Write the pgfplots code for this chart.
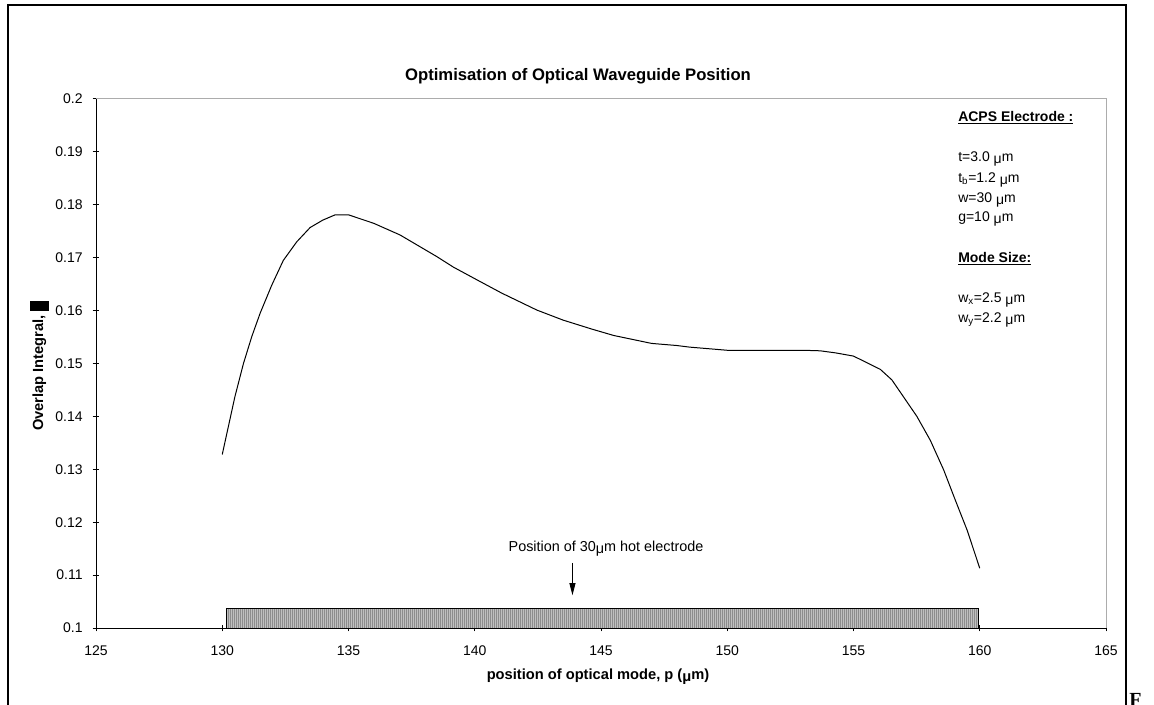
\documentclass[border=0pt]{standalone}
\usepackage{fontspec}
\setmainfont{Liberation Sans}
\newfontfamily\serifbf{Liberation Serif}
\usepackage{pgfplots}
\pgfplotsset{compat=1.18}
\usetikzlibrary{arrows.meta,patterns.meta}
\newcommand\um{\raisebox{-0.3ex}{μ}m}

\begin{document}
\begin{tikzpicture}
\useasboundingbox (0,0) rectangle (865.5pt,528pt);
\clip (0,0) rectangle (865.5pt,528pt);
\fill[white] (0,0) rectangle (865.5pt,528pt);
\draw[line width=1.5pt] (6pt,-5pt) -- (6pt,524.25pt) -- (844.5pt,524.25pt) -- (844.5pt,-5pt);
\begin{axis}[
  at={(72pt,57pt)}, anchor=south west, scale only axis,
  width=757.5pt, height=396.75pt,
  xmin=125, xmax=165, ymin=0.1, ymax=0.2,
  axis x line*=bottom, axis y line*=left,
  axis line style={black, line width=0.75pt},
  xtick={125,130,135,140,145,150,155,160,165},
  xticklabels={125,130,135,140,145,150,155,160,165},
  ytick={0.1,0.11,0.12,0.13,0.14,0.15,0.16,0.17,0.18,0.19,0.2},
  yticklabels={0.1,0.11,0.12,0.13,0.14,0.15,0.16,0.17,0.18,0.19,0.2},
  tick align=center, major tick length=5pt,
  tick style={black, line width=0.75pt},
  ticklabel style={font=\fontsize{10.5}{12}\selectfont},
  xticklabel style={yshift=-7pt},
  yticklabel style={xshift=-4pt},
  clip=false,
]
\draw[gray!65, line width=0.75pt] (rel axis cs:0,1) -- (rel axis cs:1,1) -- (rel axis cs:1,0);
\addplot[draw=black, line width=0.75pt, fill=gray!50,
  postaction={pattern={Lines[angle=90,distance=1.5pt,line width=0.45pt]}, pattern color=gray!90}]
  coordinates {(130.15,0.1) (130.15,0.1037) (159.97,0.1037) (159.97,0.1)} -- cycle;
\addplot[black, line width=0.75pt] coordinates {
(130.0,0.1328) (130.5,0.1437) (130.84,0.1500) (131.17,0.1551) (131.5,0.1595)
(131.96,0.1648) (132.42,0.1695) (132.95,0.1730) (133.48,0.1757) (133.98,0.1771)
(134.47,0.1781) (135.0,0.1781) (136.0,0.1765) (137.04,0.1743) (138.5,0.1702)
(139.16,0.1682) (140.21,0.1655) (141.07,0.1633) (142.46,0.1601) (143.5,0.1582)
(144.64,0.1565) (145.5,0.1553) (146.5,0.1543) (147.0,0.1538) (148.0,0.1534)
(148.5,0.1531) (149.5,0.1527) (150.0,0.1525) (151.0,0.1525) (152.0,0.1525)
(153.0,0.1525) (153.68,0.1524) (154.3,0.1520) (155.0,0.1514) (156.06,0.1489)
(156.52,0.1469) (156.98,0.1437) (157.51,0.1400) (158.04,0.1355) (158.57,0.1299)
(159.03,0.1242) (159.5,0.1185) (160.0,0.1113)
};
\draw[-{Triangle[length=9pt,width=4.5pt]}, line width=0.6pt] (axis cs:143.87,0.1123) -- (axis cs:143.87,0.1062);
\node[font=\fontsize{10.8}{12}\selectfont] at (axis cs:145.2,0.1150) {Position of 30\um{} hot electrode};
\end{axis}
% title and axis labels
\node[font=\bfseries\fontsize{12.5}{14}\selectfont] at (433.5pt,471pt) {Optimisation of Optical Waveguide Position};
\node[font=\bfseries\fontsize{11}{12}\selectfont] at (448.5pt,20.25pt) {position of optical mode, p (\um)};
\node[font=\bfseries\fontsize{11}{12}\selectfont, rotate=90, anchor=base, inner sep=0pt] at (32.25pt,253.5pt) {Overlap Integral, \rule[-4.5pt]{7.5pt}{14pt}};
% annotations
\begin{scope}[every node/.style={anchor=west, inner sep=0pt, font=\fontsize{10.5}{12}\selectfont}]
\node[font=\bfseries\fontsize{10.5}{12}\selectfont] at (718.5pt,439.5pt) {\underline{ACPS Electrode :}};
\node at (718.5pt,408.75pt) {t=3.0 \um};
\node at (718.5pt,393pt) {t\textsubscript{b}=1.2 \um};
\node at (718.5pt,378pt) {w=30 \um};
\node at (718.5pt,363.75pt) {g=10 \um};
\node[font=\bfseries\fontsize{10.5}{12}\selectfont] at (718.5pt,333.75pt) {\underline{Mode Size:}};
\node at (718.5pt,303pt) {w\textsubscript{x}=2.5 \um};
\node at (718.5pt,288pt) {w\textsubscript{y}=2.2 \um};
\end{scope}
\node[anchor=base west, inner sep=0pt, font=\serifbf\bfseries\fontsize{15}{17}\selectfont] at (846.75pt,-1.5pt) {F};
\end{tikzpicture}
\end{document}
